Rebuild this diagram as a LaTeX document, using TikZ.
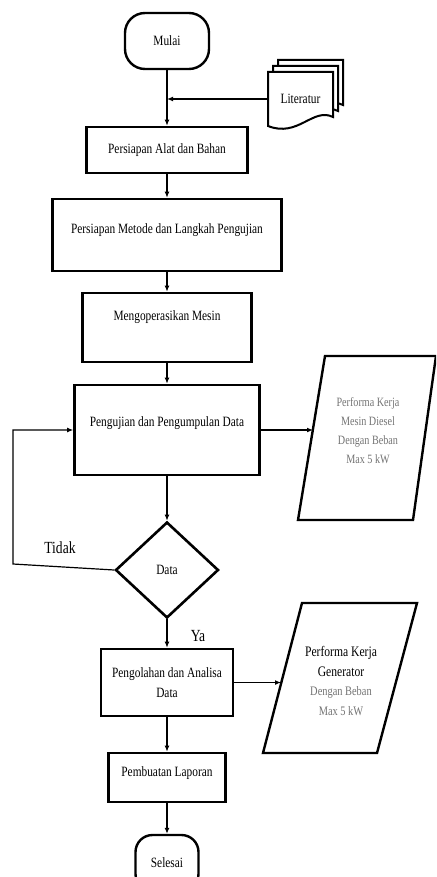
\documentclass[tikz,border=0pt]{standalone}
\usepackage{fontspec}
\setmainfont{Liberation Serif}[FakeStretch=0.8]
\usetikzlibrary{arrows.meta, shapes.geometric}
\tikzset{
  % start and end
  term/.style  = {draw, rectangle, rounded corners=20pt, line width=2.4pt,
                  minimum width=84pt, minimum height=56pt, inner sep=1pt},
  % a process step
  proc/.style  = {draw, rectangle, line width=2.6pt, inner sep=2pt,
                  align=center},
  % the decision
  dec/.style   = {draw, diamond, line width=2.6pt, inner sep=0pt,
                  minimum width=103pt, minimum height=96pt},
  % input / output
  io/.style    = {line width=2.4pt, line join=miter},
  % one sheet of the document stack
  doc/.style   = {draw, fill=white, line width=2pt},
  % a flow line
  flow/.style  = {-{Latex[length=6pt,width=5pt]}, line width=1.2pt},
  % a branch label
  br/.style    = {font=\fontsize{17}{20}\selectfont, inner sep=0pt},
}
\newcommand{\mainsz}{\fontsize{14.2}{20}\selectfont}
\newcommand{\smsz}{\fontsize{12.7}{19}\selectfont}

\begin{document}
\begin{tikzpicture}[x=1pt, y=-1pt, font=\mainsz]
  \useasboundingbox (0,0) rectangle (436,877);
  \clip (0,0) rectangle (436,877);
  % main column
  \node[term] (mulai) at (167,41) {Mulai};
  \node[proc, minimum width=161pt, minimum height=46pt] (alat)
    at (167,150) {Persiapan Alat dan Bahan};
  \node[proc, minimum width=229pt, minimum height=72pt, text depth=13pt] (metode)
    at (167,235) {Persiapan Metode dan Langkah Pengujian};
  \node[proc, minimum width=169pt, minimum height=69pt, text depth=23pt] (mesin)
    at (167,327.5) {Mengoperasikan Mesin};
  \node[proc, minimum width=185pt, minimum height=90pt, text depth=17pt] (uji)
    at (167,430) {Pengujian dan Pengumpulan Data};
  \node[dec] (data) at (167,570) {Data};
  \node[proc, minimum width=132pt, minimum height=67pt] (olah)
    at (167,682.5) {Pengolahan dan Analisa\\ Data};
  \node[proc, minimum width=117pt, minimum height=49pt, text depth=11pt] (lapor)
    at (167,777.5) {Pembuatan Laporan};
  \node[term, minimum width=63pt, rounded corners=17pt] (selesai)
    at (167,863) {Selesai};
  % literature stack
  \foreach \s in {10,5,0}
    \draw[doc, shift={(\s,-1.2*\s)}] (268,72) -- (333,72) -- (333,117)
      .. controls (313,107) and (298,138) .. (268,126) -- cycle;
  \node[minimum width=65pt, minimum height=56pt, inner sep=0pt] (lit)
    at (300.5,99) {Literatur};
  % outputs
  \draw[io] (298,520) -- (413,520) -- (436,356) -- (325,356) -- cycle;
  \node[font=\smsz, text=black!55, align=center] (diesel) at (368,431)
    {Performa Kerja\\ Mesin Diesel\\ Dengan Beban\\ Max 5 kW};
  \draw[io] (263,753) -- (377,753) -- (417,603) -- (302,603) -- cycle;
  \node[font=\fontsize{13}{19.7}\selectfont, align=center] (gen) at (341,681)
    {{\fontsize{14.5}{20}\selectfont Performa Kerja}\\
     {\fontsize{14.5}{20}\selectfont Generator}\\
     {\color{black!55}Dengan Beban}\\
     {\color{black!55}Max 5 kW}};
  \coordinate (join) at (167,99);
  \coordinate (in1)  at (313,430);
  \coordinate (in2)  at (281,682.5);
  \coordinate (back) at (13,564);
  % flow
  \draw[flow] (mulai) -- (alat);
  \draw[flow] (lit.west) -- (join);
  \draw[flow] (alat) -- (metode);
  \draw[flow] (metode) -- (mesin);
  \draw[flow] (mesin) -- (uji);
  \draw[flow] (uji.east) -- (in1);
  \draw[flow] (uji) -- (data);
  \draw[flow] (data.west) -- (back) |- (uji.west);
  \draw[flow] (data) -- (olah);
  \draw[flow] (olah.east) -- (in2);
  \draw[flow] (olah) -- (lapor);
  \draw[flow] (lapor) -- (selesai);
  \node[br] (tidak) at (60,548) {Tidak};
  \node[br] (ya) at (198,636) {Ya};
\end{tikzpicture}
\end{document}
